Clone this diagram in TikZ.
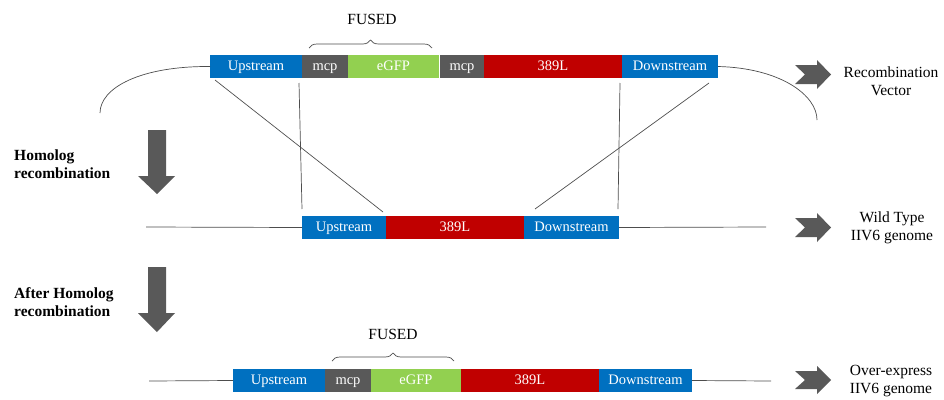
\documentclass[tikz,border=0pt]{standalone}
\usepackage{fontspec}
\setmainfont{Liberation Serif}
\usetikzlibrary{decorations.pathreplacing,calc}
\definecolor{cblue}{HTML}{0070C0}
\definecolor{cred}{HTML}{C00000}
\definecolor{cgreen}{HTML}{92D050}
\definecolor{cgray}{HTML}{595959}
\definecolor{cline}{HTML}{4D4D4D}
\tikzset{
  seg/.style={inner sep=0pt, outer sep=0pt, text=white, font=\fontsize{14.5}{16}\selectfont, minimum height=23pt, text height=9.5pt, text depth=1pt},
  lbl/.style={inner sep=0pt, align=center, font=\fontsize{15.5}{18.5}\selectfont},
  blbl/.style={inner sep=0pt, align=left, font=\bfseries\fontsize{15.5}{18.5}\selectfont},
  conn/.style={draw=cline, line width=0.7pt},
  fatarrow/.style={fill=cgray, draw=none},
  brc/.style={draw=cline, line width=0.7pt, decorate, decoration={brace, amplitude=8pt}}
}
\begin{document}
\begin{tikzpicture}[x=1pt,y=-1pt]
\useasboundingbox (0,0) rectangle (944,399);
% Row 1 - recombination vector
\node[seg, fill=cblue, minimum width=92pt] (u1) at (256,66.5) {Upstream};
\node[seg, fill=cgray, minimum width=46pt] (m1) at (325,66.5) {mcp};
\node[seg, fill=cgreen, minimum width=91pt] (g1) at (393.5,66.5) {eGFP};
\node[seg, fill=cgray, minimum width=44pt] (m2) at (462,66.5) {mcp};
\node[seg, fill=cred, minimum width=138pt] (r1) at (553,66.5) {389L};
\node[seg, fill=cblue, minimum width=96pt] (d1) at (670,66.5) {Downstream};
\coordinate (b1s) at (309,48);
\coordinate (b1e) at (432,48);
\draw[brc] (b1s) -- (b1e);
\node[lbl] (f1) at (372,19) {FUSED};
\coordinate (cl) at (100,113);
\coordinate (cr) at (817,120);
\draw[conn] (u1.west) .. controls (140,66) and (100,88) .. (cl);
\draw[conn] (d1.east) .. controls (780,68) and (817,95) .. (cr);
% Row 2 - wild type
\node[seg, fill=cblue, minimum width=84pt] (u2) at (344,227.5) {Upstream};
\node[seg, fill=cred, minimum width=138pt] (r2) at (455,227.5) {389L};
\node[seg, fill=cblue, minimum width=95pt] (d2) at (571.5,227.5) {Downstream};
\coordinate (l2) at (146,227);
\coordinate (r2e) at (766,227);
\draw[conn] (l2) -- (u2.west);
\draw[conn] (d2.east) -- (r2e);
% crossing lines
\coordinate (a1) at (215,80);
\coordinate (a2) at (383,212);
\coordinate (v1) at (299,83);
\coordinate (v2) at (302,209);
\coordinate (v3) at (620,83);
\coordinate (v4) at (618,209);
\coordinate (e1) at (709,83);
\coordinate (e2) at (535,209);
\draw[conn] (a1) -- (a2);
\draw[conn] (v1) -- (v2);
\draw[conn] (v3) -- (v4);
\draw[conn] (e1) -- (e2);
% Row 3 - over-express
\node[seg, fill=cblue, minimum width=92pt] (u3) at (279,380.5) {Upstream};
\node[seg, fill=cgray, minimum width=46pt] (m3) at (348,380.5) {mcp};
\node[seg, fill=cgreen, minimum width=90pt] (g3) at (416,380.5) {eGFP};
\node[seg, fill=cred, minimum width=138pt] (r3) at (530,380.5) {389L};
\node[seg, fill=cblue, minimum width=93pt] (d3) at (645.5,380.5) {Downstream};
\coordinate (l3) at (149,381);
\coordinate (r3e) at (771,381);
\draw[conn] (l3) -- (u3.west);
\draw[conn] (d3.east) -- (r3e);
\coordinate (b3s) at (332,361);
\coordinate (b3e) at (454,361);
\draw[brc] (b3s) -- (b3e);
\node[lbl] (f3) at (393,334) {FUSED};
% Down arrows
\fill[fatarrow] (148,130) -- (166,130) -- (166,176) -- (175,176) -- (157,194) -- (138,176) -- (148,176) -- cycle;
\fill[fatarrow] (148,267) -- (166,267) -- (166,313) -- (175,313) -- (157,332) -- (138,313) -- (148,313) -- cycle;
\node[blbl, anchor=west] (h1) at (14,164) {Homolog\\recombination};
\node[blbl, anchor=west] (h2) at (14,302) {After Homolog\\recombination};
% Right arrows
\fill[fatarrow] (795,65) -- (817,65) -- (817,60) -- (831,74.5) -- (817,89) -- (817,84) -- (795,84) -- (805,74.5) -- cycle;
\fill[fatarrow] (795,218) -- (817,218) -- (817,213) -- (831,227.5) -- (817,242) -- (817,237) -- (795,237) -- (805,227.5) -- cycle;
\fill[fatarrow] (795,371) -- (817,371) -- (817,366) -- (831,380) -- (817,394) -- (817,389) -- (795,389) -- (805,380) -- cycle;
\node[lbl] (t1) at (891,81) {Recombination\\Vector};
\node[lbl] (t2) at (892,228) {Wild Type\\IIV6 genome};
\node[lbl] (t3) at (891,381) {Over-express\\IIV6 genome};
\end{tikzpicture}
\end{document}
